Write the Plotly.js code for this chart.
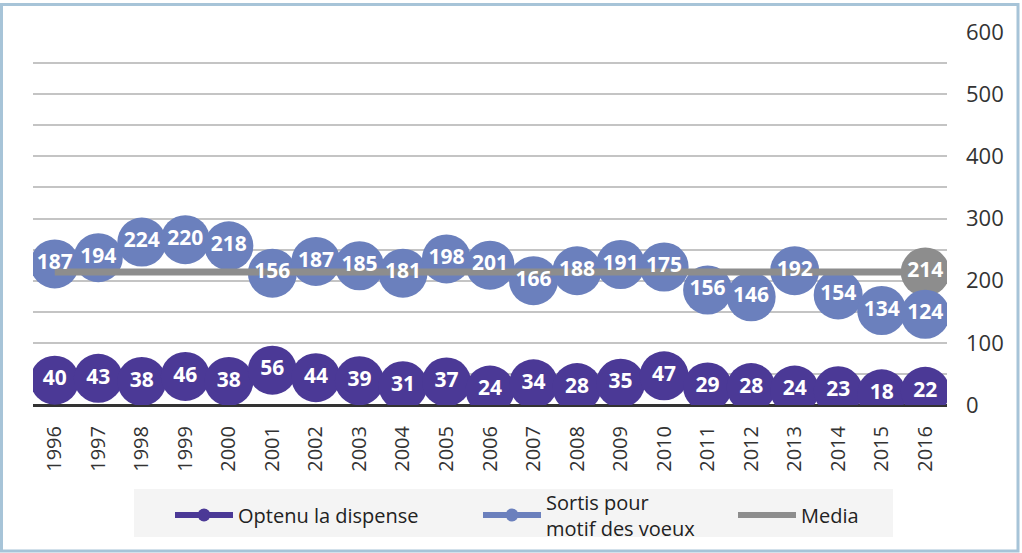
<!DOCTYPE html>
<html>
<head>
<meta charset="utf-8">
<script src="https://cdn.plot.ly/plotly-3.0.1.min.js"></script>
<style>
html,body{margin:0;padding:0;background:#fff;}
#chart{width:1022px;height:553px;}
</style>
</head>
<body>
<div id="chart"></div>
<script>
// ---- data ----
const years = ['1996','1997','1998','1999','2000','2001','2002','2003','2004','2005','2006','2007','2008','2009','2010','2011','2012','2013','2014','2015','2016'];
const dispense = [40,43,38,46,38,56,44,39,31,37,24,34,28,35,47,29,28,24,23,18,22];
const sortis = [187,194,224,220,218,156,187,185,181,198,201,166,188,191,175,156,146,192,154,134,124];
const media = [214,214,214,214,214,214,214,214,214,214,214,214,214,214,214,214,214,214,214,214,214];
const seriesNames = ['Optenu la dispense', 'Sortis pour<br>motif des voeux', 'Media'];

// ---- style ----
const cPurple = '#4b3996';
const cBlue = '#6b80bd';
const cGray = '#8d8d8d';
const labelFont = {family: 'Open Sans, sans-serif', size: 21, color: '#ffffff', weight: 'bold'};
const markerSize = 49;

// sortis is stacked on top of dispense
const sortisStacked = dispense.map((d, i) => d + sortis[i]);
const lastIdx = years.length - 1;

// pixel -> paper helpers (plot area 33..947 x, 32..405 y)
const PL = 33, PR = 947, PT = 32, PB = 405;
const px = p => (p - PL) / (PR - PL);
const py = p => (PB - p) / (PB - PT);

const traces = [
  {x: years, y: dispense, type: 'scatter', mode: 'markers', showlegend: false, hoverinfo: 'skip',
   marker: {color: cPurple, size: markerSize}},
  {x: [years[lastIdx]], y: [media[lastIdx]], type: 'scatter', mode: 'markers', showlegend: false, hoverinfo: 'skip',
   marker: {color: cGray, size: markerSize}},
  {x: years, y: sortisStacked, type: 'scatter', mode: 'markers', showlegend: false, hoverinfo: 'skip',
   marker: {color: cBlue, size: markerSize}},
  {x: years, y: media, type: 'scatter', mode: 'lines', showlegend: false, hoverinfo: 'skip',
   line: {color: cGray, width: 7}},
  {x: years, y: dispense, type: 'scatter', mode: 'text', showlegend: false, hoverinfo: 'skip',
   text: dispense.map(String), textposition: 'middle center', textfont: labelFont},
  {x: years, y: sortisStacked, type: 'scatter', mode: 'text', showlegend: false, hoverinfo: 'skip',
   text: sortis.map(String), textposition: 'middle center', textfont: labelFont},
  {x: [years[lastIdx]], y: [media[lastIdx]], type: 'scatter', mode: 'text', showlegend: false, hoverinfo: 'skip',
   text: [String(media[lastIdx])], textposition: 'middle center', textfont: labelFont},
  // legend entries
  {x: [null], y: [null], type: 'scatter', mode: 'lines+markers', name: seriesNames[0], legend: 'legend',
   line: {color: cPurple, width: 6}, marker: {color: cPurple, size: 13}},
  {x: [null], y: [null], type: 'scatter', mode: 'lines+markers', name: seriesNames[1], legend: 'legend2',
   line: {color: cBlue, width: 6}, marker: {color: cBlue, size: 13}},
  {x: [null], y: [null], type: 'scatter', mode: 'lines', name: seriesNames[2], legend: 'legend3',
   line: {color: cGray, width: 6}}
];

const legendBase = {orientation: 'h', xanchor: 'left', yanchor: 'middle', bgcolor: 'rgba(0,0,0,0)',
  itemwidth: 58, font: {family: 'Open Sans, sans-serif', size: 20, color: '#222'}, itemclick: false, itemdoubleclick: false};

const layout = {
  width: 1022, height: 553,
  margin: {l: PL, r: 1022 - PR, t: PT, b: 553 - PB, autoexpand: false},
  paper_bgcolor: '#ffffff', plot_bgcolor: '#ffffff',
  showlegend: true,
  hovermode: false,
  xaxis: {type: 'category', range: [-0.5, years.length - 0.5], tickangle: -90, ticks: '', showgrid: false,
    showline: false, zeroline: false, ticklabelstandoff: 16, automargin: false,
    tickfont: {family: 'Open Sans, sans-serif', size: 20, color: '#333'}},
  yaxis: {side: 'right', range: [0, 600], dtick: 100, tick0: 0, ticks: '', showline: false, automargin: false,
    showgrid: true, gridcolor: '#c4c4c4', gridwidth: 2,
    minor: {dtick: 50, tick0: 0, showgrid: true, gridcolor: '#c4c4c4', gridwidth: 2},
    zeroline: true, zerolinecolor: '#333333', zerolinewidth: 3, ticklabelstandoff: 18,
    tickfont: {family: 'Open Sans, sans-serif', size: 22, color: '#333'}},
  legend: Object.assign({}, legendBase, {x: px(170), y: py(515)}),
  legend2: Object.assign({}, legendBase, {x: px(478), y: py(515)}),
  legend3: Object.assign({}, legendBase, {x: px(733), y: py(515)}),
  shapes: [
    {type: 'rect', xref: 'paper', yref: 'paper', x0: px(134), x1: px(893), y0: py(537), y1: py(489),
     fillcolor: '#f4f4f4', line: {width: 0}, layer: 'below'},
    {type: 'rect', xref: 'paper', yref: 'paper', x0: px(1.5), x1: px(1018), y0: py(551), y1: py(4.5),
     fillcolor: 'rgba(0,0,0,0)', line: {color: '#a7c4d8', width: 3}, layer: 'above'}
  ]
};

Plotly.newPlot('chart', traces, layout, {staticPlot: true, displayModeBar: false});
</script>
</body>
</html>
